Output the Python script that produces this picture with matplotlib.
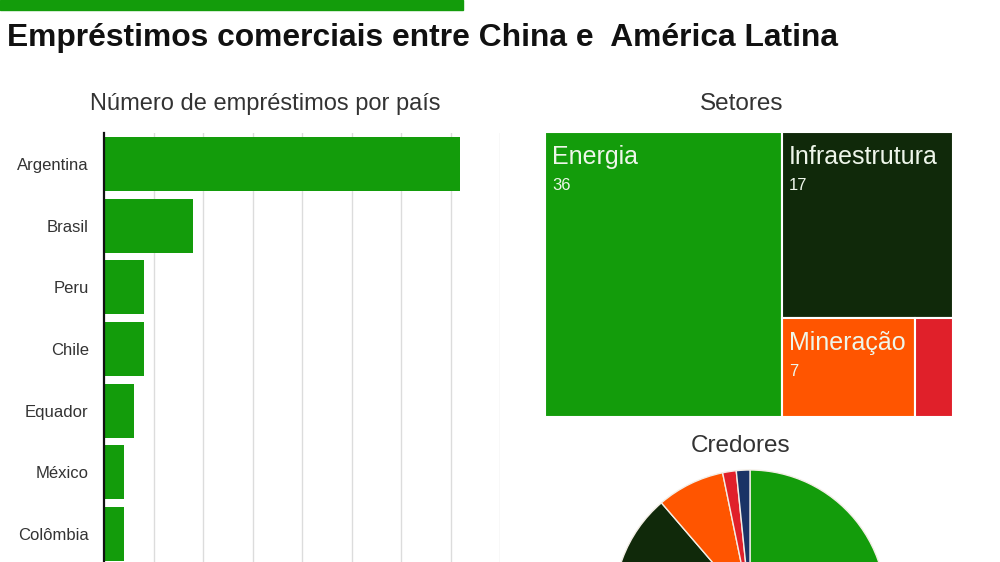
import numpy as np
import matplotlib
matplotlib.use("Agg")
import matplotlib.pyplot as plt
from matplotlib.patches import Rectangle

plt.rcParams['font.family'] = ['Liberation Sans', 'DejaVu Sans']

# Dados
paises = ['Argentina', 'Brasil', 'Peru', 'Chile', 'Equador', 'México', 'Colômbia']
emprestimos = [36, 9, 4, 4, 3, 2, 2]

setores = ['Energia', 'Infraestrutura', 'Mineração', 'Outros']
setores_val = [36, 17, 7, 2]

credores_val = [35, 20, 5, 1, 1]

verde = '#139c0b'
verde_esc = '#10290a'
laranja = '#ff5500'
vermelho = '#e0202a'
azul = '#1a3366'

fig = plt.figure(figsize=(10, 5.62), dpi=100)
fig.patch.set_facecolor('white')

# barra verde do topo e titulo
fig.patches.append(Rectangle((0, 1 - 10 / 562), 0.463, 10 / 562, transform=fig.transFigure,
                             color=verde, zorder=0))
fig.text(0.007, 1 - 38 / 562, 'Empréstimos comerciais entre China e  América Latina',
         fontsize=22.9, fontweight='bold', color='#111111', va='center', ha='left')

# --- barras por pais ---
ax = fig.add_axes([0.104, 1 - 565 / 562, 0.396, 432 / 562])
y = np.arange(len(paises))
ax.barh(y, emprestimos, height=0.875, color=verde, zorder=2)
ax.set_ylim(len(paises) - 0.5, -0.5)
ax.set_xlim(0, 40)
ax.set_xticks(np.arange(5, 41, 5))
ax.tick_params(axis='x', length=0, labelbottom=False)
ax.set_yticks(y)
ax.set_yticklabels(paises, fontsize=12, color='#333333')
ax.tick_params(axis='y', length=0, pad=11)
ax.grid(axis='x', color='#dcdcdc', linewidth=1, zorder=0)
for s in ['top', 'right', 'bottom']:
    ax.spines[s].set_visible(False)
ax.spines['left'].set_linewidth(1.6)
ax.spines['left'].set_color('#111111')
ax.spines['left'].set_zorder(3)
fig.text(0.265, 1 - 104 / 562, 'Número de empréstimos por país', fontsize=17,
         color='#333333', ha='center', va='center')

# --- treemap setores ---
axt = fig.add_axes([0.545, 1 - 417 / 562, 0.408, 285 / 562])
axt.set_xlim(0, 1)
axt.set_ylim(0, 1)
axt.axis('off')
total = sum(setores_val)
w0 = setores_val[0] / total
resto = sum(setores_val[1:])
h1 = setores_val[1] / resto
baixo = setores_val[2] + setores_val[3]
w2 = (1 - w0) * setores_val[2] / baixo
rects = [
    (0, 0, w0, 1),
    (w0, 1 - h1, 1 - w0, h1),
    (w0, 0, w2, 1 - h1),
    (w0 + w2, 0, 1 - w0 - w2, 1 - h1),
]
cores_set = [verde, verde_esc, laranja, vermelho]
for i, (x0, y0, w, h) in enumerate(rects):
    axt.add_patch(Rectangle((x0, y0), w, h, facecolor=cores_set[i], edgecolor='white',
                            linewidth=1.5))
    if i < 3:
        axt.text(x0 + 0.017, y0 + h - 0.045, setores[i], fontsize=18, color='#eef6ea',
                 ha='left', va='top')
        axt.text(x0 + 0.017, y0 + h - 0.16, str(setores_val[i]), fontsize=12,
                 color='#eef6ea', ha='left', va='top')
fig.text(0.742, 1 - 104 / 562, 'Setores', fontsize=17.5, color='#333333',
         ha='center', va='center')

# --- pizza credores ---
axp = fig.add_axes([0.614, 1 - 742 / 562, 0.272, 272 / 562])
axp.pie(credores_val, colors=[verde, verde_esc, laranja, vermelho, azul], startangle=90,
        counterclock=False, radius=1,
        wedgeprops=dict(edgecolor='#f3eee6', linewidth=1))
axp.set_xlim(-1, 1)
axp.set_ylim(-1, 1)
axp.set_aspect('equal')
fig.text(0.741, 1 - 446 / 562, 'Credores', fontsize=17.5, color='#333333',
         ha='center', va='center')

fig.savefig('out.png', dpi=100)
